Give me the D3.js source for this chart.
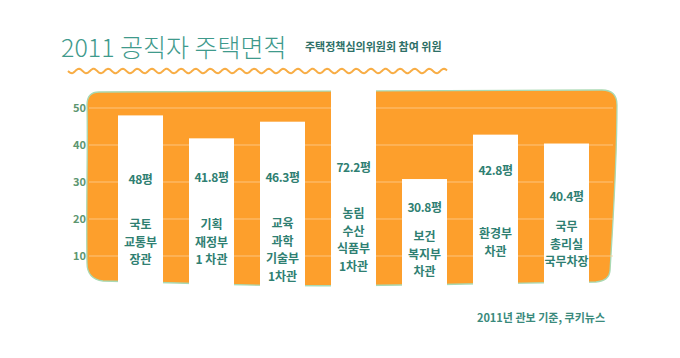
<!DOCTYPE html>
<html><head><meta charset="utf-8">
<script src="https://cdn.jsdelivr.net/npm/d3@7"></script>
<style>body{margin:0;background:#fff}svg{display:block}</style>
</head><body>
<svg id="c" width="680" height="358"></svg>
<script>
// ---- data ----
const categories = [
  ["국토","교통부","장관"],
  ["기획","재정부","1 차관"],
  ["교육","과학","기술부","1차관"],
  ["농림","수산","식품부","1차관"],
  ["보건","복지부","차관"],
  ["환경부","차관"],
  ["국무","총리실","국무차장"]
];
const values = [48, 41.8, 46.3, 72.2, 30.8, 42.8, 40.4];
const valueLabels = ["48평","41.8평","46.3평","72.2평","30.8평","42.8평","40.4평"];
const yTicks = [10, 20, 30, 40, 50];
const titleText = "2011 공직자 주택면적";
const subtitleText = "주택정책심의위원회 참여 위원";
const sourceText = "2011년 관보 기준, 쿠키뉴스";

// ---- layout (positions of in-bar labels) ----
const valueLabelY = [180, 178, 178, 168, 208, 171, 197];
const catLabelY = [225, 225, 224, 214, 237, 234, 227];
const lineGap = 17.6;

const svg = d3.select("#c");
const FONT = "'Noto Sans CJK KR','Noto Sans',sans-serif";
const teal = "#2f7f72";

const x = d3.scaleBand().domain(d3.range(values.length)).range([118, 589]).paddingInner(0.366).paddingOuter(0);
const y = d3.scaleLinear().domain([0, 50]).range([293, 108]);

const L = x.range()[0] - 31, R = x.range()[1] + 27, T = y(50) - 17, B = y(0) - 10;

// orange blob
const blob = d3.path();
blob.moveTo(L + 12, T + 1);
blob.bezierCurveTo(L + 150, T - 1, R - 200, T + 1, R - 14, T - 1);
blob.quadraticCurveTo(R + 1, T - 1, R + 1, T + 14);
blob.bezierCurveTo(R + 1, T + 70, R - 3, B - 60, R - 6, B - 12);
blob.quadraticCurveTo(R - 7, B - 2, R - 20, B - 1);
blob.lineTo(R - 150, B + 1);
blob.bezierCurveTo(R - 260, B + 3, L + 200, B + 4, L + 90, B);
blob.lineTo(L + 16, B - 2);
blob.quadraticCurveTo(L, B - 4, L, B - 20);
blob.bezierCurveTo(L - 1, B - 80, L + 1, T + 60, L, T + 14);
blob.quadraticCurveTo(L, T + 1, L + 12, T + 1);
blob.closePath();
svg.append("path").attr("d", blob.toString())
  .attr("fill", "#fd9f2c").attr("stroke", "#a9d9b3").attr("stroke-width", 1.3);

// gridlines
svg.append("g").selectAll("line").data(yTicks).join("line")
  .attr("x1", L + 2).attr("x2", R - 3)
  .attr("y1", d => y(d)).attr("y2", d => y(d))
  .attr("stroke", "#ffd29a").attr("stroke-width", 1).attr("opacity", 0.75);

// white bars
svg.append("g").selectAll("rect").data(values).join("rect")
  .attr("x", (d, i) => x(i)).attr("width", x.bandwidth())
  .attr("y", d => Math.max(y(d), T - 6))
  .attr("height", d => y(0) - Math.max(y(d), T - 6) + 4)
  .attr("fill", "#fff");

// y-axis tick labels
const yAxis = d3.axisLeft(y).tickValues(yTicks).tickSize(0).tickPadding(0);
const ya = svg.append("g").attr("transform", `translate(${L - 1},0)`).call(yAxis);
ya.select(".domain").remove();
ya.selectAll("text").attr("font-family", FONT).attr("font-size", 11).attr("font-weight", 700)
  .attr("fill", "#5d9670").attr("dy", "0.35em");

// value labels
svg.append("g").selectAll("text").data(valueLabels).join("text")
  .attr("x", (d, i) => x(i) + x.bandwidth() / 2)
  .attr("y", (d, i) => valueLabelY[i]).attr("dy", "0.35em")
  .attr("text-anchor", "middle").attr("font-family", FONT).attr("font-size", 12)
  .attr("font-weight", 700).attr("fill", teal).attr("letter-spacing", -0.4).text(d => d);

// category labels
const cg = svg.append("g");
categories.forEach((lines, i) => {
  lines.forEach((t, j) => {
    cg.append("text").attr("x", x(i) + x.bandwidth() / 2).attr("y", catLabelY[i] + j * lineGap)
      .attr("dy", "0.35em").attr("text-anchor", "middle").attr("font-family", FONT)
      .attr("font-size", 12).attr("font-weight", 700).attr("fill", teal).text(t);
  });
});

// title
svg.append("text").attr("x", 61).attr("y", 57).attr("font-family", FONT)
  .attr("font-size", 25).attr("font-weight", 300).attr("fill", "#3f9a8c").text(titleText);
svg.append("text").attr("x", 305).attr("y", 51).attr("font-family", FONT)
  .attr("font-size", 11).attr("font-weight", 700).attr("fill", "#2e6f66").text(subtitleText);

// wavy line
const wx0 = 68, wx1 = 447, per = 14.6;
const wpts = d3.range(wx0, wx1 + 0.5, 1).map(px => [px, 71 + 2.2 * Math.sin((px - wx0) / per * 2 * Math.PI)]);
svg.append("path").attr("d", d3.line()(wpts)).attr("fill", "none")
  .attr("stroke", "#f8ad45").attr("stroke-width", 2);

// source
svg.append("text").attr("x", 605).attr("y", 322).attr("text-anchor", "end").attr("font-family", FONT)
  .attr("font-size", 11).attr("font-weight", 700).attr("fill", "#3a8a7c").text(sourceText);
</script>
</body></html>
